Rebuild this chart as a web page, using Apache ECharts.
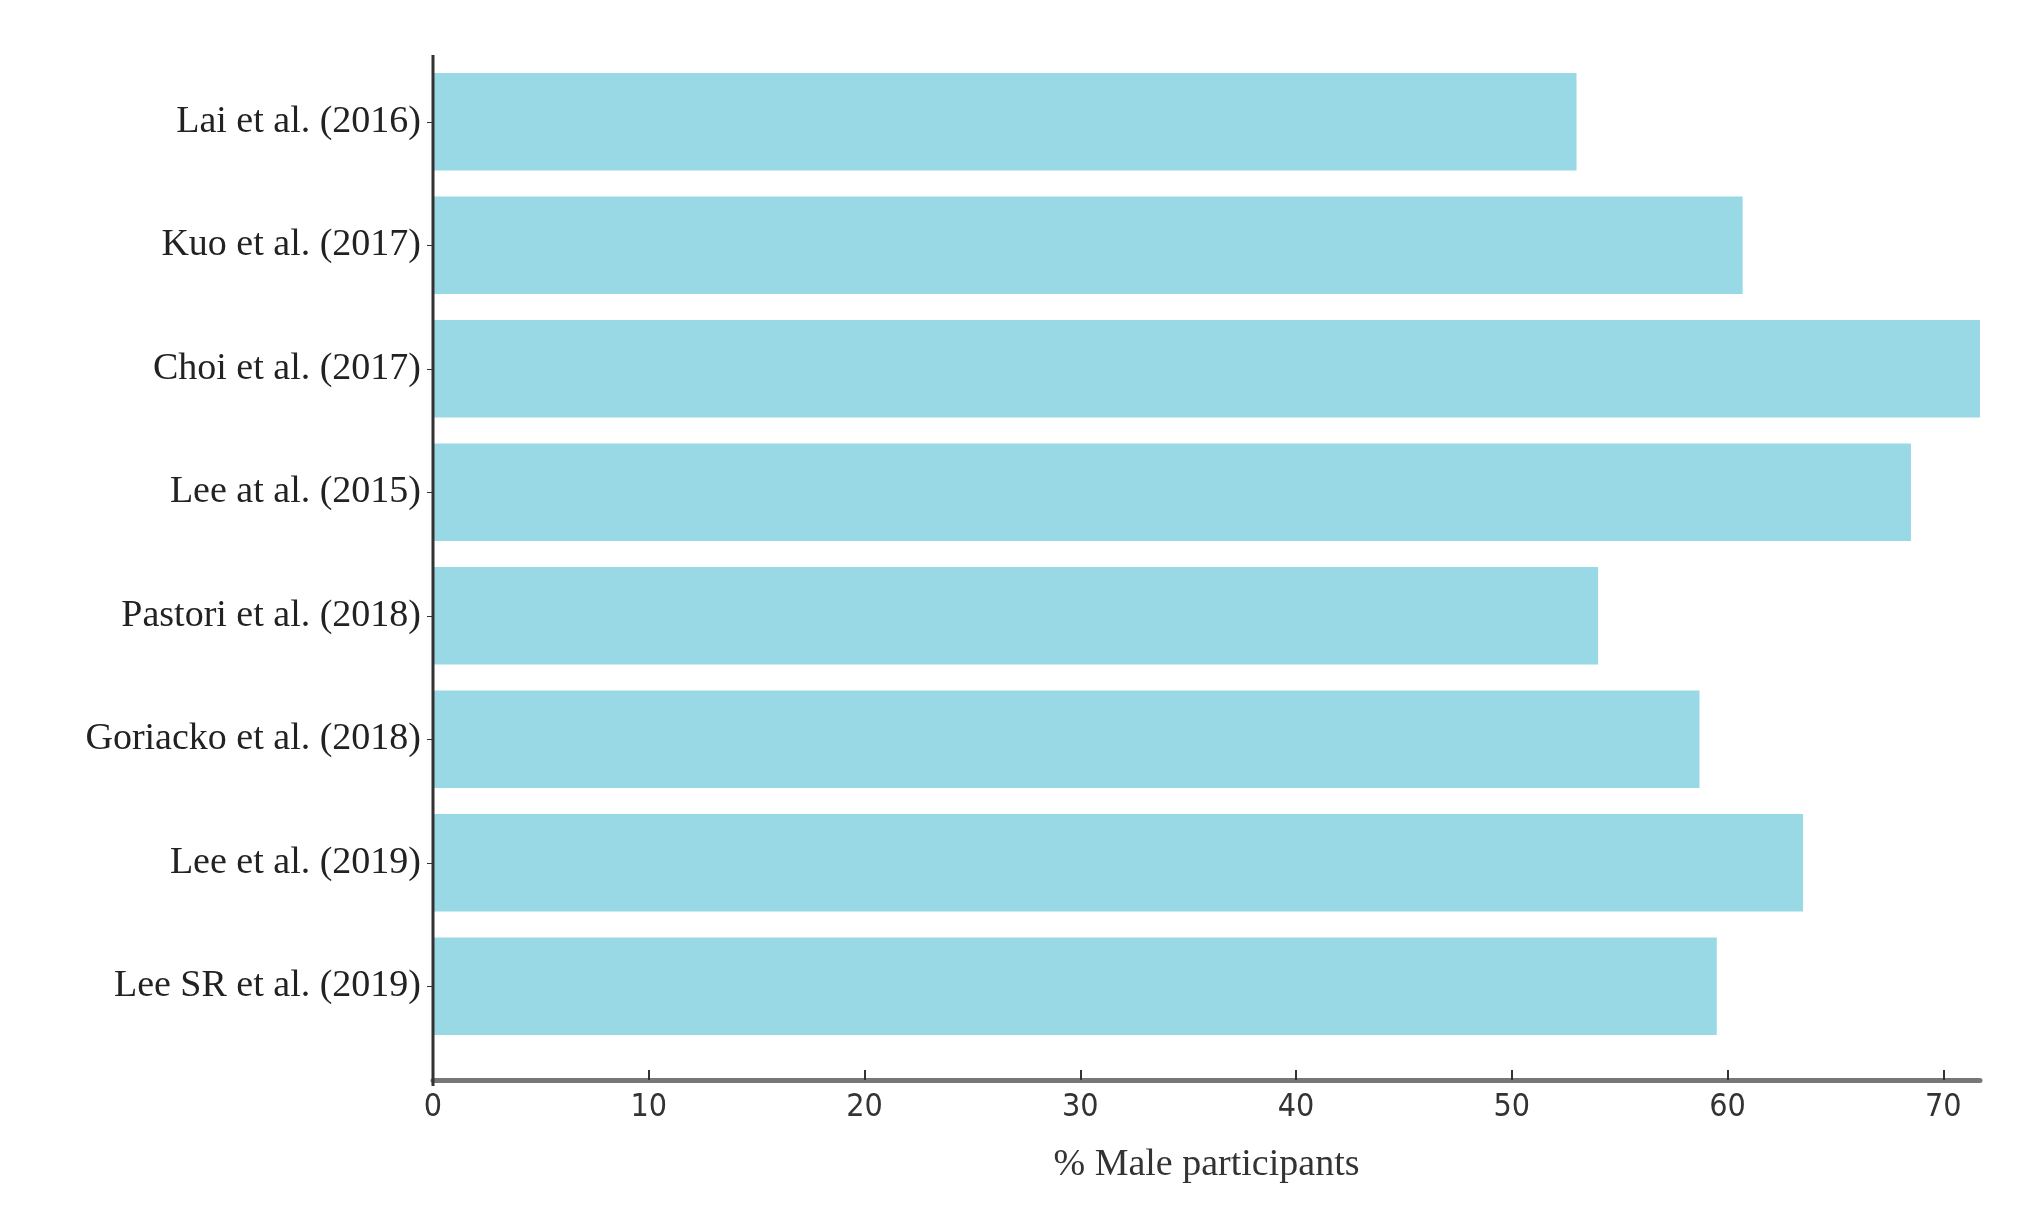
<!DOCTYPE html><html><head><meta charset="utf-8"><script src="https://cdn.jsdelivr.net/npm/echarts@6/dist/echarts.min.js"></script>
<style>html,body{margin:0;background:#fff}#c{width:2030px;height:1223px}</style></head><body><div id="c"></div><script>
const categories=["Lai et al. (2016)","Kuo et al. (2017)","Choi et al. (2017)","Lee at al. (2015)","Pastori et al. (2018)","Goriacko et al. (2018)","Lee et al. (2019)","Lee SR et al. (2019)"];
const values=[53.0,60.7,72,68.5,54.0,58.7,63.5,59.5];
const chart=echarts.init(document.getElementById('c'));
chart.setOption({
 animation:false,
 grid:{left:433,right:50,top:60,bottom:175},
 xAxis:{type:'value',min:0,max:71.7,interval:10,offset:32,
  axisLine:{show:true,lineStyle:{color:'#777',width:5}},
  axisTick:{show:true,length:10,inside:true,lineStyle:{color:'#333',width:2}},
  splitLine:{show:false},
  axisLabel:{fontFamily:'DejaVu Sans Condensed',fontSize:32,color:'#333',margin:12},
  name:'% Male participants',nameLocation:'middle',nameGap:66,
  nameTextStyle:{fontFamily:'Liberation Serif',fontSize:38,color:'#333'}},
 yAxis:{type:'category',inverse:true,data:categories,
  axisLine:{show:false},axisTick:{show:true,length:6,lineStyle:{color:'#333'},alignWithLabel:true},
  axisLabel:{fontFamily:'Liberation Serif',fontSize:38,color:'#222',margin:12}},
 graphic:[{type:'line',shape:{x1:433,y1:55,x2:433,y2:1086},style:{stroke:'#333',lineWidth:3},z:10}],
 series:[{type:'bar',data:values,barCategoryGap:'21%',itemStyle:{color:'#99d9e6'},clip:true}]
});
</script></body></html>
